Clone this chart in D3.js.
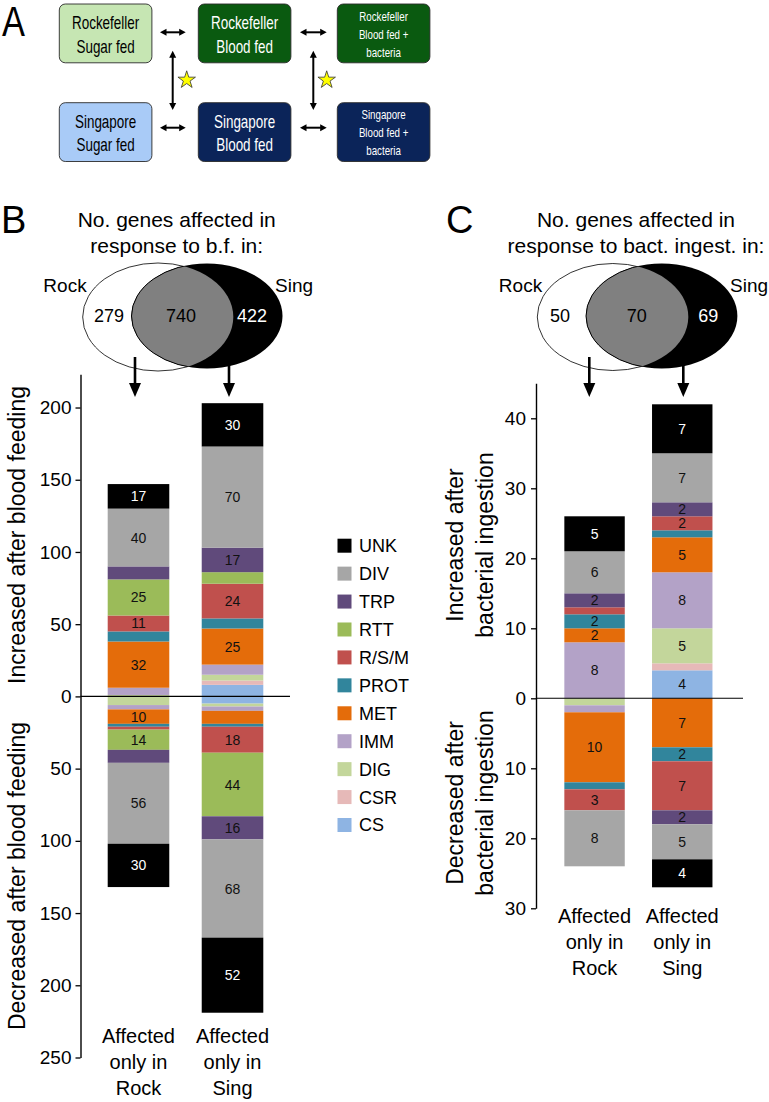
<!DOCTYPE html>
<html><head><meta charset="utf-8">
<script src="https://cdn.jsdelivr.net/npm/d3@7"></script>
<style>
body{margin:0;background:#fff}
svg text{font-family:"Liberation Sans",Arial,sans-serif}
</style>
</head><body>
<svg id="fig" width="769" height="1102"></svg>
<script>
// ---------- DATA ----------
// stacking order from the zero line outward
const categories = ["CS","CSR","DIG","IMM","MET","PROT","R/S/M","RTT","TRP","DIV","UNK"];
const catColors  = ["#8eb4e3","#e6b9b8","#c3d69b","#b3a2c7","#e46c0a","#31859c","#c0504d","#9bbb59","#604a7b","#a6a6a6","#000000"];
const groups = ["Rock","Sing"];

// Panel B: blood feeding
const rockUpB   = [0,0,1,5,32,7,11,25,9,40,17];
const singUpB   = [8,3,4,7,25,7,24,8,17,70,30];
const rockDownB = [0,0,6,3,10,2,2,14,9,56,30];
const singDownB = [5,0,2,3,9,2,18,44,16,68,52];
const ticksB = [-250,-200,-150,-100,-50,0,50,100,150,200];
const labelMinB = 10;

// Panel C: bacterial ingestion
const rockUpC   = [0,0,0,8,2,2,1,0,2,6,5];
const singUpC   = [4,1,5,8,5,1,2,0,2,7,7];
const rockDownC = [0,0,1,1,10,1,3,0,0,8,0];
const singDownC = [0,0,0,0,7,2,7,0,2,5,4];
const ticksC = [-30,-20,-10,0,10,20,30,40];
const labelMinC = 2;

// Venn counts [Rock only, shared, Sing only]
const vennB = [279,740,422];
const vennC = [50,70,69];

const groupLabel = ["Affected","only in"];

// ---------- DRAW ----------
const svg = d3.select("#fig");
const FONT = '"Liberation Sans",Arial,sans-serif';

function arrow(g, x1,y1,x2,y2, w, hl, hw, both){
  const dx=x2-x1, dy=y2-y1, L=Math.hypot(dx,dy), ux=dx/L, uy=dy/L, px=-uy, py=ux;
  const sx = both? x1+ux*hl*0.9 : x1, sy = both? y1+uy*hl*0.9 : y1;
  g.append("line").attr("x1",sx).attr("y1",sy).attr("x2",x2-ux*hl*0.9).attr("y2",y2-uy*hl*0.9)
    .attr("stroke","#000").attr("stroke-width",w);
  const head=(tx,ty,dirx,diry)=>{
    const bx=tx-dirx*hl, by=ty-diry*hl;
    g.append("path").attr("d",`M${tx},${ty}L${bx+px*hw/2},${by+py*hw/2}L${bx-px*hw/2},${by-py*hw/2}Z`).attr("fill","#000");
  };
  head(x2,y2,ux,uy);
  if(both) head(x1,y1,-ux,-uy);
}

// ----- Panel A -----
const A = svg.append("g");
A.append("text").attr("transform","translate(2,36) scale(0.8,1)").attr("font-size",43).text("A");
const boxes = [
  {x:59.3, y:4,     fill:"#c6e6b3", tc:"#000", fs:17.7, base:[29.3,52.7],       lines:["Rockefeller","Sugar fed"]},
  {x:198.3,y:4,     fill:"#0a5a10", tc:"#fff", fs:17.7, base:[29.3,52.7],       lines:["Rockefeller","Blood fed"]},
  {x:337.3,y:4,     fill:"#0a5a10", tc:"#fff", fs:12.8, base:[20.7,39,56.7],    lines:["Rockefeller","Blood fed +","bacteria"]},
  {x:59.3, y:102.7, fill:"#a9cbf7", tc:"#000", fs:17.7, base:[127.7,150.7],     lines:["Singapore","Sugar fed"]},
  {x:198.3,y:102.7, fill:"#0b2459", tc:"#fff", fs:17.7, base:[127.7,150.7],     lines:["Singapore","Blood fed"]},
  {x:337.3,y:102.7, fill:"#0b2459", tc:"#fff", fs:12.8, base:[119,137.3,155],   lines:["Singapore","Blood fed +","bacteria"]}
];
const bw=92.6, bh=58.8;
boxes.forEach(b=>{
  A.append("rect").attr("x",b.x).attr("y",b.y).attr("width",bw).attr("height",bh).attr("rx",6)
    .attr("fill",b.fill).attr("stroke","#2a2a2a").attr("stroke-width",0.9);
  b.lines.forEach((t,i)=>{
    A.append("text").attr("transform",`translate(${b.x+bw/2},${b.base[i]}) scale(0.76,1)`)
      .attr("text-anchor","middle").attr("font-size",b.fs).attr("fill",b.tc).text(t);
  });
});
[[160,32.3,185.7,32.3],[300,32.3,326.7,32.3],[160,127.7,185.7,127.7],[300,127.7,326.7,127.7]].forEach(a=>arrow(A,a[0],a[1],a[2],a[3],2,6.5,7,true));
[[172.7,50.7,172.7,110],[313.3,50.7,313.3,110]].forEach(a=>arrow(A,a[0],a[1],a[2],a[3],2,7,7,true));
[[186.7,79],[326.7,79]].forEach(p=>{
  A.append("path").attr("d",d3.symbol(d3.symbolStar).size(95)()).attr("transform",`translate(${p[0]},${p[1]+1})`)
    .attr("fill","#ffff00").attr("stroke","#333").attr("stroke-width",0.8);
});

// ----- Shared panel builder -----
function panel(cfg){
  const g = svg.append("g");
  g.append("text").attr("x",cfg.letterX).attr("y",233).attr("font-size",38).text(cfg.letter);
  cfg.title.forEach((t,i)=>g.append("text").attr("x",cfg.titleX).attr("y",226.5+i*26)
     .attr("text-anchor","middle").attr("font-size",21).text(t));
  // Venn
  const v=cfg.venn, id="clip"+cfg.letter;
  g.append("clipPath").attr("id",id).append("ellipse").attr("cx",v.w[0]).attr("cy",v.w[1]).attr("rx",v.w[2]).attr("ry",v.w[3]);
  g.append("ellipse").attr("cx",v.w[0]).attr("cy",v.w[1]).attr("rx",v.w[2]).attr("ry",v.w[3]).attr("fill","#fff").attr("stroke","#000").attr("stroke-width",0.8);
  g.append("ellipse").attr("cx",v.b[0]).attr("cy",v.b[1]).attr("rx",v.b[2]).attr("ry",v.b[3]).attr("fill","#000");
  g.append("ellipse").attr("cx",v.b[0]).attr("cy",v.b[1]).attr("rx",v.b[2]).attr("ry",v.b[3]).attr("fill","#808080")
    .attr("stroke","#000").attr("stroke-width",1).attr("clip-path",`url(#${id})`);
  g.append("text").attr("x",v.rockX).attr("y",291.5).attr("text-anchor","middle").attr("font-size",19).text("Rock");
  g.append("text").attr("x",v.singX).attr("y",291.5).attr("text-anchor","start").attr("font-size",19).text("Sing");
  cfg.counts.forEach((c,i)=>g.append("text").attr("x",v.numX[i]).attr("y",322).attr("text-anchor","middle")
     .attr("font-size",18).attr("fill",i===2?"#fff":"#000").text(c));
  v.arrowX.forEach(x=>arrow(g,x,357,x,397,2.6,14,12,false));

  const y = d3.scaleLinear().domain(cfg.domain).range(cfg.yRange);
  const x = d3.scaleBand().domain(groups).range(cfg.xRange).paddingInner(cfg.padIn).paddingOuter(0.2);

  const rows = [];
  groups.forEach((grp,gi)=>{
    const up={grp}, dn={grp};
    categories.forEach((c,ci)=>{ up[c]=cfg.up[gi][ci]; dn[c]=-cfg.down[gi][ci]; });
    rows.push(up,dn);
  });
  const series = d3.stack().keys(categories).offset(d3.stackOffsetDiverging)(rows);
  series.forEach((s,si)=>{
    s.forEach(seg=>{
      const v0=seg[0], v1=seg[1];
      if(v0===v1) return;
      const grp=seg.data.grp;
      const top=y(Math.max(v0,v1)), bot=y(Math.min(v0,v1));
      g.append("rect").attr("x",x(grp)).attr("width",x.bandwidth()).attr("y",top).attr("height",bot-top)
        .attr("fill",catColors[si]);
      const val=Math.abs(v1-v0);
      if(val>=cfg.labelMin){
        g.append("text").attr("x",x(grp)+x.bandwidth()/2).attr("y",(top+bot)/2).attr("dy","0.36em")
          .attr("text-anchor","middle").attr("font-size",14).attr("fill",si===categories.length-1?"#fff":"#111").text(val);
      }
    });
  });
  g.append("line").attr("x1",cfg.axisX).attr("x2",cfg.zeroEnd).attr("y1",y(0)).attr("y2",y(0)).attr("stroke","#000").attr("stroke-width",1.1);
  const ax = g.append("g").attr("transform",`translate(${cfg.axisX},0)`)
    .call(d3.axisLeft(y).tickValues(cfg.ticks).tickFormat(d=>Math.abs(d)).tickSize(5).tickSizeOuter(0).tickPadding(cfg.tickPad));
  ax.select(".domain").attr("stroke-width",1.4);
  ax.selectAll(".tick line").attr("stroke-width",1.3);
  ax.selectAll("text").attr("font-size",cfg.tickFs).attr("font-family",FONT).attr("fill","#000");
  cfg.yTitles.forEach(t=>{
    t.lines.forEach((ln,i)=>g.append("text").attr("transform",`translate(${t.x[i]},${t.cy}) rotate(-90)`)
      .attr("text-anchor","middle").attr("font-size",23).text(ln));
  });
  groups.forEach(grp=>{
    [...groupLabel, grp].forEach((ln,i)=>g.append("text").attr("x",x(grp)+x.bandwidth()/2).attr("y",cfg.labBase+i*26.2)
      .attr("text-anchor","middle").attr("font-size",20).text(ln));
  });
}

panel({
  letter:"B", letterX:1, titleX:176.7, title:["No. genes affected in","response to b.f. in:"],
  venn:{w:[158,317,75.3,54], b:[207,316,75.5,52.5], rockX:65, singX:275, numX:[109,181,252], arrowX:[135,229]},
  counts:vennB,
  domain:[-250,223], yRange:[1057.5,1057.5-473*1.4444],
  xRange:[88.9,282.1], padIn:0.345,
  up:[rockUpB,singUpB], down:[rockDownB,singDownB], labelMin:labelMinB,
  axisX:80.5, zeroEnd:290, ticks:ticksB, tickPad:4, tickFs:19,
  yTitles:[{lines:["Increased after blood feeding"],x:[25],cy:535},{lines:["Decreased after blood feeding"],x:[25],cy:876}],
  labBase:1043
});
panel({
  letter:"C", letterX:446, titleX:636, title:["No. genes affected in","response to bact. ingest. in:"],
  venn:{w:[612.8,317,75.5,53.5], b:[661.7,316,75.7,52.5], rockX:520.5, singX:730, numX:[560,636.7,708.3], arrowX:[589.3,683.3]},
  counts:vennC,
  domain:[-30,45], yRange:[908.3,383.3],
  xRange:[546.8,730], padIn:0.311,
  up:[rockUpC,singUpC], down:[rockDownC,singDownC], labelMin:labelMinC,
  axisX:536, zeroEnd:743, ticks:ticksC, tickPad:5, tickFs:19,
  yTitles:[{lines:["Increased after","bacterial ingestion"],x:[463,493],cy:545},{lines:["Decreased after","bacterial ingestion"],x:[463,493],cy:803}],
  labBase:922.7
});

const legend = svg.append("g");
const legendItems = categories.slice().reverse();
const ly = d3.scalePoint().domain(legendItems).range([545.7,825]);
legendItems.forEach(c=>{
  const ci=categories.indexOf(c);
  legend.append("rect").attr("x",337.5).attr("y",ly(c)-7).attr("width",14).attr("height",14).attr("fill",catColors[ci]);
  legend.append("text").attr("x",359).attr("y",ly(c)).attr("dy","0.36em").attr("font-size",18).text(c);
});
</script>
</body></html>
